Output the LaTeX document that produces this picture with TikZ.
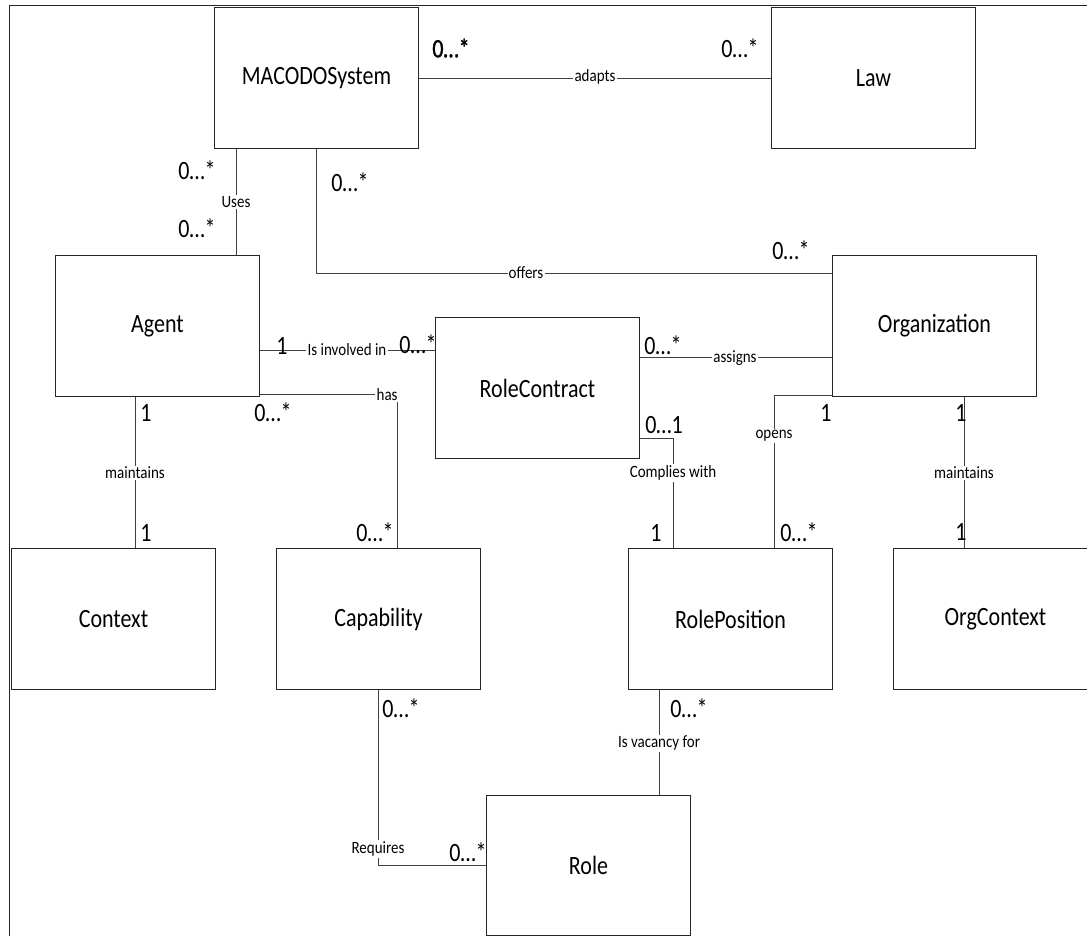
\documentclass[tikz,border=0pt]{standalone}
\usepackage{fontspec}
\usepackage{graphicx}
\setmainfont{Carlito}
\usetikzlibrary{calc}
% slightly tall lettering
\newcommand{\tallA}[1]{\scalebox{1}[1.2]{#1}}
\newcommand{\tallB}[1]{\scalebox{1}[1.15]{#1}}
\tikzset{
  cls/.style={draw=black!85, line width=1pt, minimum width=204pt, minimum height=141pt,
    inner sep=0pt, anchor=north west, font=\fontsize{22}{26}\selectfont},
  assoc/.style={draw=black!75, line width=0.9pt},
  rel/.style={fill=white, inner sep=1.2pt, font=\fontsize{15}{18}\selectfont},
  mult/.style={inner sep=0pt, font=\fontsize{22}{26}\selectfont},
}
\begin{document}
\begin{tikzpicture}[x=1pt,y=-1pt]
\useasboundingbox (0,0) rectangle (1087,936);
\clip (0,0) rectangle (1087,936);
\fill[white] (0,0) rectangle (1087,936);

% frame
\draw[draw=black!85, line width=1pt] (9,940) -- (9,6) -- (1090,6);

% classes
\node[cls] (sys)   at (214,7)   {\tallA{MACODOSystem}};
\node[cls] (law)   at (771,7)   {\tallA{Law}};
\node[cls] (agent) at (55,255)  {\tallA{Agent}};
\node[cls] (rc)    at (435,317) {\tallA{RoleContract}};
\node[cls] (org)   at (832,255) {\tallA{Organization}};
\node[cls] (ctx)   at (11,548)  {\tallA{Context}};
\node[cls] (cap)   at (276,548) {\tallA{Capability}};
\node[cls] (rp)    at (628,548) {\tallA{RolePosition}};
\node[cls] (oc)    at (893,548) {\tallA{OrgContext}};
\node[cls, minimum height=140pt] (role) at (486,795) {\tallA{Role}};

% attachment points
\coordinate (usesA) at ($(sys.south west)+(22,0)$);
\coordinate (invA)  at ($(agent.north east)+(0,95)$);
\coordinate (hasA)  at ($(agent.north east)+(0,139)$);
\coordinate (hasB)  at ($(cap.north west)+(121,0)$);
\coordinate (mtA)   at ($(agent.south west)+(80,0)$);
\coordinate (offB)  at ($(org.north west)+(0,18)$);
\coordinate (asgA)  at ($(rc.north east)+(0,40)$);
\coordinate (cmpA)  at ($(rc.north east)+(0,121)$);
\coordinate (cmpB)  at ($(rp.north west)+(45,0)$);
\coordinate (opnA)  at ($(org.south west)+(0,-2)$);
\coordinate (opnB)  at ($(rp.north west)+(146,0)$);
\coordinate (omtA)  at ($(org.south west)+(132,0)$);
\coordinate (reqA)  at ($(cap.south west)+(102,0)$);
\coordinate (reqB)  at ($(role.north west)+(0,70)$);
\coordinate (vacA)  at ($(rp.south west)+(31,0)$);

% associations
\draw[assoc] (sys.east) -- (law.west);
\draw[assoc] (usesA) -- (usesA |- agent.north);
\draw[assoc] (sys.south) |- (offB);
\draw[assoc] (invA) -- (invA -| rc.west);
\draw[assoc] (hasA) -| (hasB);
\draw[assoc] (mtA) -- (mtA |- ctx.north);
\draw[assoc] (asgA) -- (asgA -| org.west);
\draw[assoc] (cmpA) -| (cmpB);
\draw[assoc] (opnA) -| (opnB);
\draw[assoc] (omtA) -- (omtA |- oc.north);
\draw[assoc] (reqA) |- (reqB);
\draw[assoc] (vacA) -- (vacA |- role.north);

% association names
\node[rel] (lAdapts) at (595,77)  {\tallB{adapts}};
\node[rel] (lUses)   at (236,202) {\tallB{Uses}};
\node[rel] (lOffers) at (526,273) {\tallB{offers}};
\node[rel] (lInv)    at (347,350) {\tallB{Is involved in}};
\node[rel, anchor=east] (lHas) at (399,395) {\tallB{has}};
\node[rel] (lMt1)    at (135,473) {\tallB{maintains}};
\node[rel] (lAsg)    at (735,358) {\tallB{assigns}};
\node[rel] (lCmp)    at (673,473) {\tallB{Complies with}};
\node[rel] (lOpn)    at (774,436) {\tallB{opens}};
\node[rel] (lMt2)    at (964,473) {\tallB{maintains}};
\node[rel] (lReq)    at (378,849) {\tallB{Requires}};
\node[rel] (lVac)    at (659,743) {\tallB{Is vacancy for}};

% multiplicities
\node[mult] (m1)  at (451,48)  {\addfontfeature{FakeBold=1.2}\tallA{0…*}};
\node[mult] (m2)  at (740,48)  {\tallA{0…*}};
\node[mult] (m3)  at (197,170) {\tallA{0…*}};
\node[mult] (m4)  at (197,228) {\tallA{0…*}};
\node[mult] (m5)  at (350,182) {\tallA{0…*}};
\node[mult] (m6)  at (791,250) {\tallA{0…*}};
\node[mult] (m7)  at (282,346) {\tallA{1}};
\node[mult] (m8)  at (418,344) {\tallA{0…*}};
\node[mult] (m9)  at (273,412) {\tallA{0…*}};
\node[mult] (m10) at (375,532) {\tallA{0…*}};
\node[mult] (m11) at (146,413) {\tallA{1}};
\node[mult] (m12) at (146,533) {\tallA{1}};
\node[mult] (m13) at (663,345) {\tallA{0…*}};
\node[mult] (m14) at (664,425) {\tallA{0…1}};
\node[mult] (m15) at (656,533) {\tallA{1}};
\node[mult] (m16) at (826,413) {\tallA{1}};
\node[mult] (m17) at (799,532) {\tallA{0…*}};
\node[mult] (m18) at (961,413) {\tallA{1}};
\node[mult] (m19) at (961,532) {\tallA{1}};
\node[mult] (m20) at (401,708) {\tallA{0…*}};
\node[mult] (m21) at (468,852) {\tallA{0…*}};
\node[mult] (m22) at (689,708) {\tallA{0…*}};
\end{tikzpicture}
\end{document}
